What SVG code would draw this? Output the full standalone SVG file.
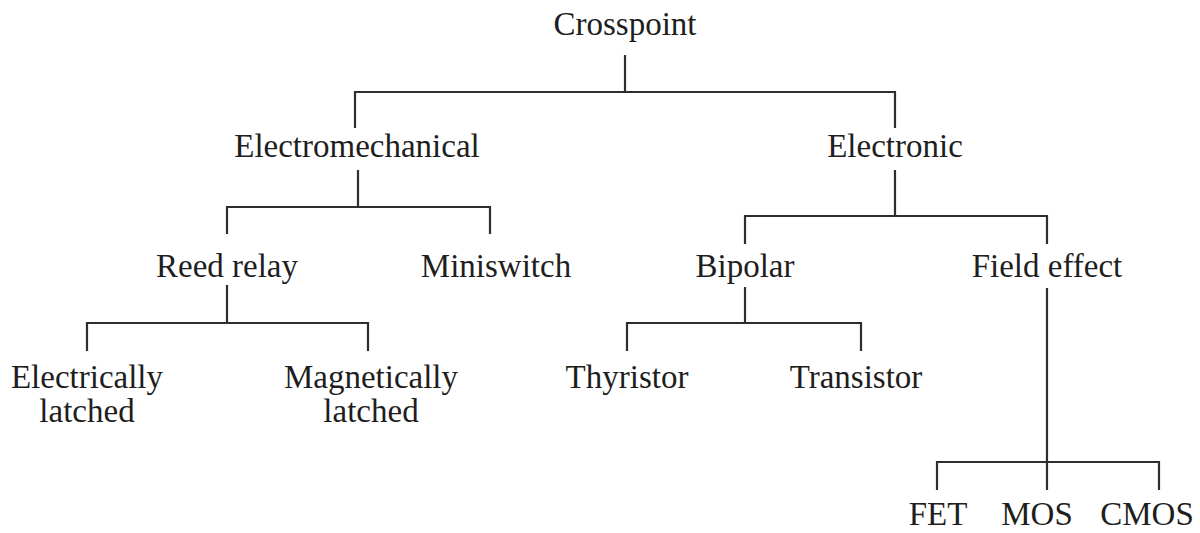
<svg xmlns="http://www.w3.org/2000/svg" width="1200" height="533" viewBox="0 0 1200 533">
  <style>
    .lbl { font-family: "Liberation Serif", "Times New Roman", serif; font-size: 33px; fill: #1e1e1e; text-anchor: middle; }
    .ln { stroke: #2e2e2e; stroke-width: 2.2; fill: none; stroke-linecap: square; }
  </style>
  <rect width="1200" height="533" fill="#ffffff"/>

  <g id="connectors">
    <!-- Crosspoint -->
    <path class="ln" d="M625 56 V92 M355 92 H895 M355 92 V127 M895 92 V127"/>
    <!-- Electromechanical -->
    <path class="ln" d="M358 171 V207 M227 207 H490 M227 207 V233 M490 207 V233"/>
    <!-- Reed relay -->
    <path class="ln" d="M227 286 V323 M87 323 H368 M87 323 V350 M368 323 V350"/>
    <!-- Electronic -->
    <path class="ln" d="M895 171 V216 M745 216 H1047 M745 216 V243 M1047 216 V243"/>
    <!-- Bipolar -->
    <path class="ln" d="M745 288 V323 M627 323 H861 M627 323 V350 M861 323 V350"/>
    <!-- Field effect -->
    <path class="ln" d="M1047 289 V462 M937 462 H1159 M937 462 V489 M1047 462 V489 M1159 462 V489"/>
  </g>

  <g id="crosspoint"><text class="lbl" x="625" y="35">Crosspoint</text></g>
  <g id="electromechanical"><text class="lbl" x="357" y="157">Electromechanical</text></g>
  <g id="electronic"><text class="lbl" x="895" y="157">Electronic</text></g>
  <g id="reed-relay"><text class="lbl" x="227" y="277">Reed relay</text></g>
  <g id="miniswitch"><text class="lbl" x="496" y="277">Miniswitch</text></g>
  <g id="bipolar"><text class="lbl" x="745" y="277">Bipolar</text></g>
  <g id="field-effect"><text class="lbl" x="1047" y="277">Field effect</text></g>
  <g id="electrically-latched">
    <text class="lbl" x="87" y="388">Electrically</text>
    <text class="lbl" x="87" y="422">latched</text>
  </g>
  <g id="magnetically-latched">
    <text class="lbl" x="371" y="388">Magnetically</text>
    <text class="lbl" x="371" y="422">latched</text>
  </g>
  <g id="thyristor"><text class="lbl" x="627" y="388">Thyristor</text></g>
  <g id="transistor"><text class="lbl" x="856" y="388">Transistor</text></g>
  <g id="fet"><text class="lbl" x="938" y="525">FET</text></g>
  <g id="mos"><text class="lbl" x="1037" y="525">MOS</text></g>
  <g id="cmos"><text class="lbl" x="1147" y="525">CMOS</text></g>
</svg>
